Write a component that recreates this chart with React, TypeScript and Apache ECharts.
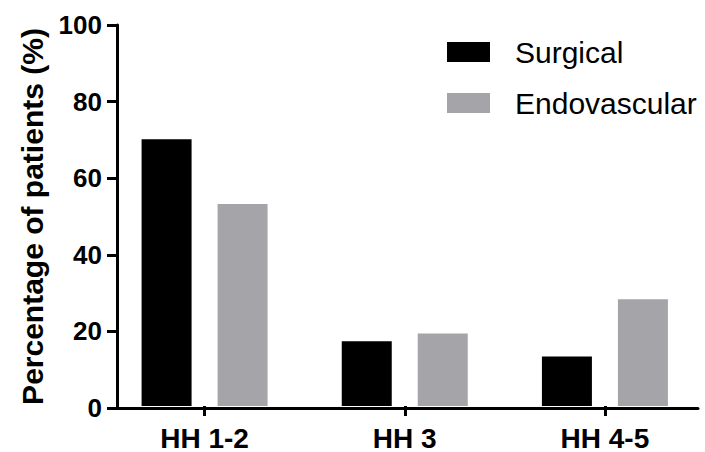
import React, { useEffect, useRef } from "react";
import * as echarts from "echarts";

const categories = ["HH 1-2", "HH 3", "HH 4-5"];
const surgical = [70, 17, 13];
const endovascular = [53, 19, 28];
const seriesNames = ["Surgical", "Endovascular"];
const yTicks = { min: 0, max: 100, interval: 20 };
const yTitle = "Percentage of patients (%)";

const FONT = "'Liberation Sans', Arial, Helvetica, sans-serif";

export default function App() {
  const ref = useRef<HTMLDivElement>(null);
  useEffect(() => {
    if (!ref.current) return;
    const chart = echarts.init(ref.current, undefined, { renderer: "svg" });
    chart.setOption({
      animation: false,
      backgroundColor: "#ffffff",
      textStyle: { fontFamily: FONT },
      legend: {
        orient: "vertical",
        left: 447,
        top: 37,
        padding: 0,
        itemWidth: 43,
        itemHeight: 20,
        itemGap: 21,
        icon: "rect",
        data: seriesNames,
        textStyle: {
          fontFamily: FONT,
          fontSize: 30,
          color: "#000",
          padding: [0, 0, 0, 20],
        },
      },
      grid: [
        { left: 104.5, right: -2.5, top: 25, bottom: 44 },
        { left: 117, right: 7, top: 25, bottom: 44 },
      ],
      xAxis: [
        {
          gridIndex: 0,
          type: "category",
          data: categories,
          axisLine: { show: false },
          axisTick: {
            show: true,
            alignWithLabel: true,
            length: 10,
            lineStyle: { width: 3, color: "#000" },
          },
          axisLabel: {
            fontFamily: FONT,
            fontWeight: "bold",
            fontSize: 28,
            color: "#000",
            margin: 18,
          },
          splitLine: { show: false },
        },
        {
          gridIndex: 1,
          type: "value",
          min: 0,
          max: 1,
          axisLine: { show: true, lineStyle: { width: 3, color: "#000" } },
          axisTick: { show: false },
          axisLabel: { show: false },
          splitLine: { show: false },
        },
      ],
      yAxis: [
        {
          gridIndex: 0,
          type: "value",
          min: yTicks.min,
          max: yTicks.max,
          show: false,
          splitLine: { show: false },
        },
        {
          gridIndex: 1,
          type: "value",
          min: yTicks.min,
          max: yTicks.max,
          interval: yTicks.interval,
          name: yTitle,
          nameLocation: "middle",
          nameGap: 70,
          nameTextStyle: {
            fontFamily: FONT,
            fontWeight: "bold",
            fontSize: 30,
            color: "#000",
          },
          axisLine: { show: true, lineStyle: { width: 3, color: "#000" } },
          axisTick: { show: true, length: 10, lineStyle: { width: 3, color: "#000" } },
          axisLabel: {
            fontFamily: FONT,
            fontWeight: "bold",
            fontSize: 26,
            color: "#000",
            margin: 15,
          },
          splitLine: { show: false },
        },
      ],
      series: [
        {
          name: seriesNames[0],
          type: "bar",
          xAxisIndex: 0,
          yAxisIndex: 0,
          data: surgical,
          barWidth: 50,
          barGap: "52%",
          itemStyle: { color: "#000000" },
        },
        {
          name: seriesNames[1],
          type: "bar",
          xAxisIndex: 0,
          yAxisIndex: 0,
          data: endovascular,
          barWidth: 50,
          barGap: "52%",
          itemStyle: { color: "#a5a5a9" },
        },
      ],
    });
    return () => chart.dispose();
  }, []);
  return (
    <div
      ref={ref}
      style={{ position: "fixed", left: 0, top: 0, width: 705, height: 452 }}
    />
  );
}
